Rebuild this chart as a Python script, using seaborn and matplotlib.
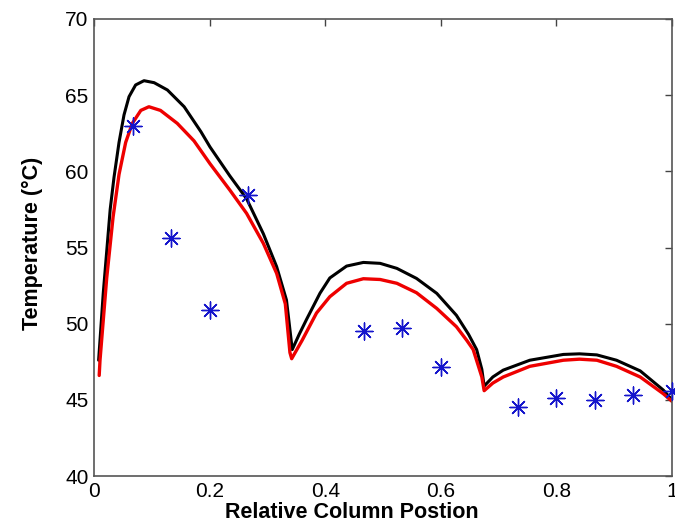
import numpy as np
import pandas as pd
import matplotlib
matplotlib.use("Agg")
import matplotlib.pyplot as plt
import seaborn as sns

# Simulated profiles
black_x = [0.008, 0.016, 0.028, 0.0346, 0.0433, 0.0519, 0.0606, 0.072, 0.0865, 0.104, 0.127, 0.156,
           0.185, 0.2007, 0.235, 0.264, 0.293, 0.316, 0.333, 0.343,
           0.355, 0.368, 0.391, 0.408, 0.437, 0.466, 0.495, 0.524, 0.558, 0.593, 0.627, 0.648,
           0.662, 0.671, 0.675,
           0.690, 0.708, 0.754, 0.812, 0.840, 0.870, 0.904, 0.945, 0.985, 1.000]
black_y = [47.6, 52.0, 57.5, 59.6, 61.9, 63.7, 64.9, 65.67, 65.95, 65.82, 65.34, 64.24,
           62.6, 61.6, 59.7, 58.2, 55.9, 53.74, 51.55, 48.3,
           49.3, 50.3, 52.0, 53.0, 53.78, 54.02, 53.96, 53.63, 52.97, 51.99, 50.55, 49.3,
           48.3, 47.0, 45.9,
           46.5, 46.95, 47.6, 47.98, 48.02, 47.95, 47.6, 46.9, 45.64, 45.0]

red_x = [0.009, 0.0104, 0.022, 0.033, 0.0433, 0.0548, 0.0663, 0.081, 0.095, 0.115, 0.144, 0.173,
         0.2007, 0.235, 0.264, 0.293, 0.316, 0.331, 0.339, 0.342,
         0.360, 0.385, 0.408, 0.437, 0.466, 0.495, 0.524, 0.558, 0.593, 0.627, 0.645,
         0.656, 0.671, 0.675,
         0.690, 0.708, 0.754, 0.812, 0.840, 0.870, 0.904, 0.945, 0.985, 1.000]
red_y = [46.6, 47.6, 53.0, 57.0, 59.8, 61.9, 63.15, 64.0, 64.24, 64.0, 63.15, 62.0,
         60.5, 58.77, 57.24, 55.27, 53.3, 51.3, 48.1, 47.7,
         48.9, 50.7, 51.77, 52.65, 52.95, 52.9, 52.65, 52.03, 51.0, 49.8, 48.9,
         48.3, 46.5, 45.6,
         46.1, 46.5, 47.2, 47.6, 47.67, 47.6, 47.2, 46.5, 45.4, 44.9]

# Measured points
meas_x = [1/15, 2/15, 3/15, 4/15, 7/15, 8/15, 9/15, 11/15, 12/15, 13/15, 14/15, 15/15]
meas_y = [63.0, 55.6, 50.9, 58.45, 49.5, 49.7, 47.15, 44.5, 45.1, 45.0, 45.35, 45.6]

xticks = [0, 0.2, 0.4, 0.6, 0.8, 1.0]
xticklabels = ["0", "0.2", "0.4", "0.6", "0.8", "1"]
yticks = [40, 45, 50, 55, 60, 65, 70]

sns.set_theme(style="white")
plt.rcParams["font.family"] = ["Liberation Sans", "DejaVu Sans"]

df_black = pd.DataFrame({"x": black_x, "y": black_y})
df_red = pd.DataFrame({"x": red_x, "y": red_y})
df_meas = pd.DataFrame({"x": meas_x, "y": meas_y})

fig = plt.figure(figsize=(6.75, 5.3), dpi=100)
ax = fig.add_axes([94/675, 1 - 476/530, 578/675, 457/530])

sns.lineplot(data=df_black, x="x", y="y", ax=ax, color="black", linewidth=2.2,
             sort=False, estimator=None)
sns.lineplot(data=df_red, x="x", y="y", ax=ax, color="#ee0000", linewidth=2.4,
             sort=False, estimator=None)
sns.scatterplot(data=df_meas, x="x", y="y", ax=ax, marker=(8, 2, 0), s=150,
                color="#1515cc", linewidth=1.0, edgecolor="#1515cc", zorder=5, clip_on=False)

ax.set_xlim(0, 1)
ax.set_ylim(40, 70)
ax.set_xticks(xticks)
ax.set_xticklabels(xticklabels)
ax.set_yticks(yticks)
ax.tick_params(axis="both", which="both", direction="in", length=5, width=1,
               color="#444444", labelsize=15, top=True, right=True, pad=4,
               labelcolor="black")
for sp in ax.spines.values():
    sp.set_visible(True)
    sp.set_color("#555555")
    sp.set_linewidth(1.2)

ax.set_xlabel("Relative Column Postion", fontsize=15.5, fontweight="bold", color="black")
ax.set_ylabel("Temperature (°C)", fontsize=15.5, fontweight="bold", color="black")
ax.xaxis.set_label_coords(0.446, -0.057)
ax.yaxis.set_label_coords(-0.088, 0.51)

fig.savefig("out.png", dpi=100, facecolor="white")
